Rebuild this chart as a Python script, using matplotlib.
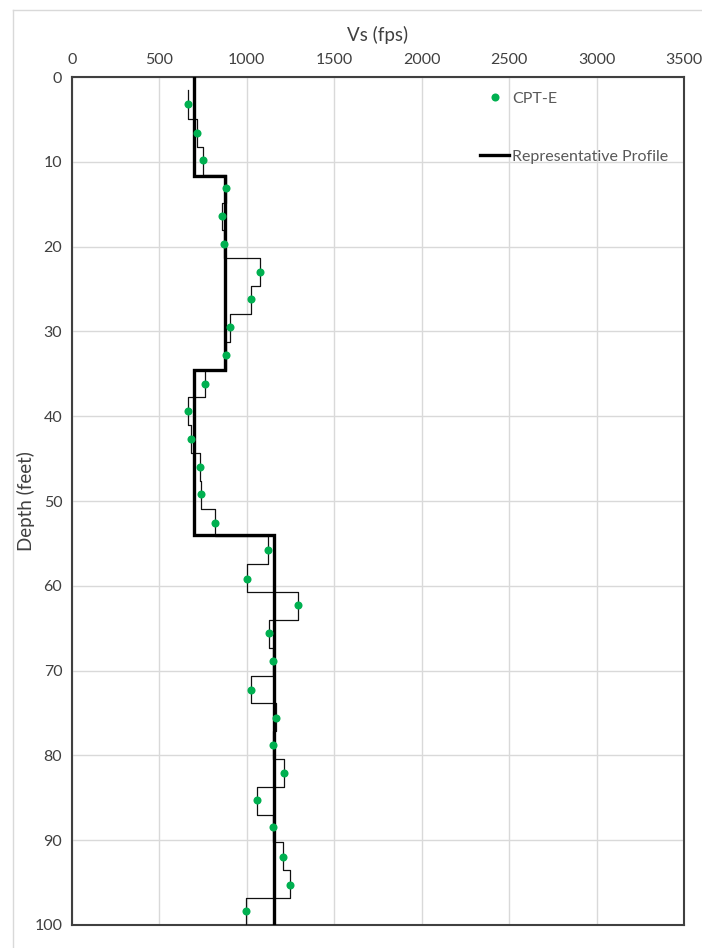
import numpy as np
import matplotlib
matplotlib.use("Agg")
import matplotlib.pyplot as plt
from matplotlib.lines import Line2D

plt.rcParams['font.family'] = ['Lato', 'DejaVu Sans']

# CPT-E layered shear wave velocity profile
layer_top = [1.5, 4.9, 8.2, 11.5, 14.8, 18.0, 21.3, 24.6, 27.9, 31.2,
             34.5, 37.7, 41.0, 44.3, 47.6, 50.9, 54.1, 57.4, 60.7, 64.0,
             67.3, 70.6, 73.8, 77.1, 80.4, 83.7, 87.0, 90.2, 93.5, 96.8]
layer_bot = [4.9, 8.2, 11.5, 14.8, 18.0, 21.3, 24.6, 27.9, 31.2, 34.5,
             37.7, 41.0, 44.3, 47.6, 50.9, 54.1, 57.4, 60.7, 64.0, 67.3,
             70.6, 73.8, 77.1, 80.4, 83.7, 87.0, 90.2, 93.5, 96.8, 100.0]
cpt_vs = [662, 717, 747, 879, 860, 869, 1073, 1022, 904, 881,
          761, 662, 679, 732, 738, 818, 1119, 999, 1292, 1127,
          1151, 1022, 1167, 1148, 1212, 1060, 1150, 1205, 1248, 995]
cpt_depth = [3.2, 6.6, 9.8, 13.1, 16.4, 19.7, 23.0, 26.2, 29.5, 32.8,
             36.2, 39.4, 42.7, 46.0, 49.2, 52.6, 55.8, 59.2, 62.3, 65.6,
             68.9, 72.3, 75.6, 78.8, 82.1, 85.3, 88.4, 92.0, 95.3, 98.4]

# Representative profile
rep_top = [0.0, 11.7, 34.5, 54.0]
rep_bot = [11.7, 34.5, 54.0, 100.0]
rep_vs = [700, 875, 700, 1155]

x_ticks = [0, 500, 1000, 1500, 2000, 2500, 3000, 3500]
y_ticks = [0, 10, 20, 30, 40, 50, 60, 70, 80, 90, 100]


def step_profile(tops, bots, vals):
    xs, ys = [], []
    for t, b, v in zip(tops, bots, vals):
        xs += [v, v]
        ys += [t, b]
    return xs, ys


fig = plt.figure(figsize=(7.02, 9.48), dpi=100)
ax = fig.add_axes([72/702, 1-925/948, 612/702, 848/948])

# figure border (light gray)
fig.add_artist(Line2D([13/702, 13/702], [0, 1-10/948], transform=fig.transFigure,
                      color='#d9d9d9', lw=1))
fig.add_artist(Line2D([13/702, 1], [1-10/948, 1-10/948], transform=fig.transFigure,
                      color='#d9d9d9', lw=1))

tx, ty = step_profile(layer_top, layer_bot, cpt_vs)
ax.plot(tx, ty, color='#111111', lw=0.9, zorder=3)
rx, ry = step_profile(rep_top, rep_bot, rep_vs)
ax.plot(rx, ry, color='black', lw=2.4, zorder=4, solid_joinstyle='miter')
ax.plot(cpt_vs, cpt_depth, 'o', color='#00B050', ms=5.8, mec='none', zorder=5)

ax.set_xlim(0, 3500)
ax.set_ylim(100, 0)
ax.set_xticks(x_ticks)
ax.set_yticks(y_ticks)
ax.xaxis.tick_top()
ax.xaxis.set_label_position('top')
ax.tick_params(axis='both', length=0, labelsize=11.5, labelcolor='#404040', pad=7)
ax.grid(True, color='#d9d9d9', lw=1)
ax.set_axisbelow(True)
for s in ax.spines.values():
    s.set_color('#404040')
    s.set_linewidth(1.5)

ax.set_xlabel('Vs (fps)', fontsize=13.5, color='#404040', labelpad=9)
ax.set_ylabel('Depth (feet)', fontsize=13.5, color='#404040')
ax.yaxis.set_label_coords(-0.060, 0.5)

handles = [Line2D([], [], marker='o', color='#00B050', ls='none', ms=5.8, mec='none'),
           Line2D([], [], color='black', lw=2.4)]
leg = ax.legend(handles, ['CPT-E', 'Representative Profile'], loc='upper left',
                bbox_to_anchor=(0.667, 0.983), frameon=False, fontsize=11.5,
                handlelength=1.8, handletextpad=0.2, labelspacing=2.75,
                borderpad=0, borderaxespad=0)
for t in leg.get_texts():
    t.set_color('#595959')

fig.savefig('out.png', dpi=100)
